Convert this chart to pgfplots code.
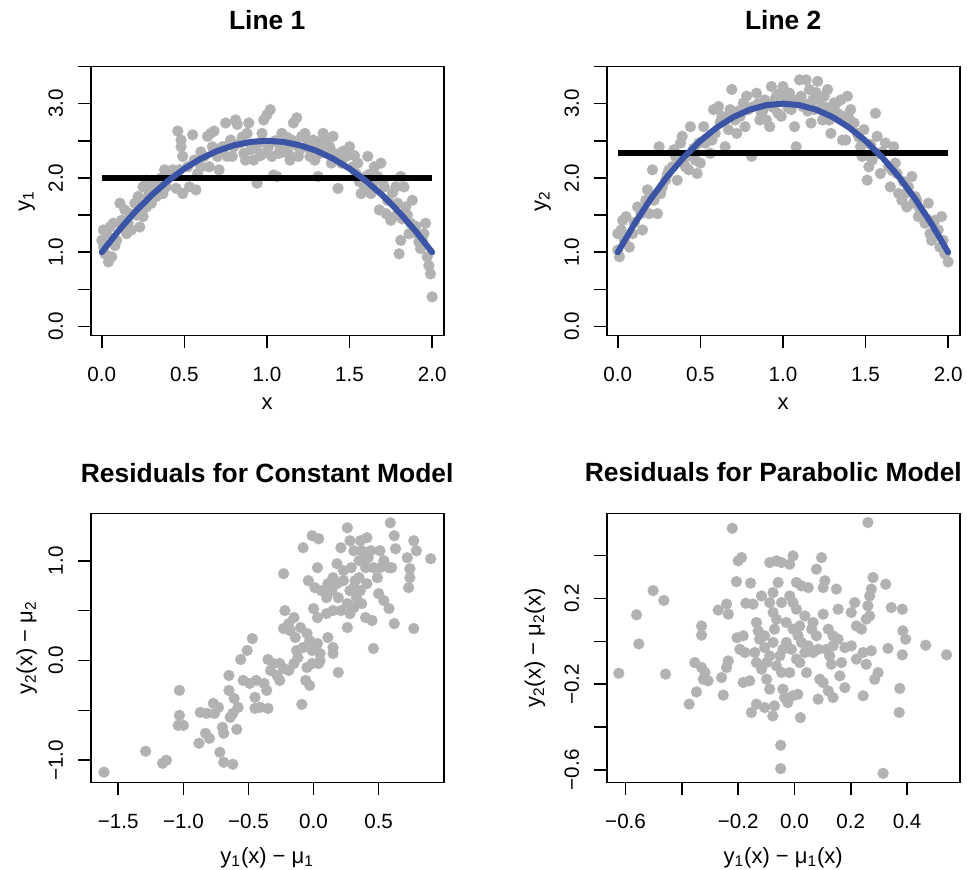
\documentclass[border=0pt]{standalone}
\usepackage{fontspec}
\setmainfont{Liberation Sans}
\usepackage{pgfplots}
\pgfplotsset{compat=1.18}
\definecolor{ptgray}{RGB}{178,178,178}
\definecolor{fitblue}{RGB}{60,84,165}
\pgfplotsset{
  rstyle/.style={
    scale only axis, width=176.5pt, height=134.5pt,
    clip marker paths=true,
    axis line style={line width=0.8pt},
    tick align=outside, major tick length=6.3pt,
    tick style={line width=0.8pt, black},
    xtick pos=left, ytick pos=left,
    ticklabel style={font=\fontsize{10.3}{12}\selectfont},
    xticklabel style={yshift=-6pt},
    yticklabel style={xshift=-4pt, rotate=90, anchor=south},
    label style={font=\fontsize{11}{13}\selectfont},
    every axis title shift=0pt,
    title style={font=\fontsize{13.2}{15}\selectfont\bfseries, at={(axis description cs:0.5,1.172)}, anchor=center},
    xlabel style={at={(axis description cs:0.5,-0.253)}, anchor=center},
    ylabel style={at={(axis description cs:-0.181,0.5)}, anchor=center},
  },
  pts/.style={only marks, mark=*, mark size=2.75pt, color=ptgray, mark options={fill=ptgray, draw=ptgray, line width=0.1pt}},
}
\begin{document}
\begin{tikzpicture}
\path[use as bounding box] (0,0) rectangle (483.5pt,434.5pt);
% ---------------- Line 1
\begin{axis}[rstyle, at={(45.35pt,266.75pt)}, anchor=south west,
  xmin=-0.067, xmax=2.07, ymin=-0.12, ymax=3.5,
  xtick={0,0.5,1,1.5,2}, xticklabels={0.0,0.5,1.0,1.5,2.0},
  ytick={0,0.5,1,1.5,2,2.5,3,3.5}, yticklabels={0.0,,1.0,,2.0,,3.0,},
  title={Line 1}, xlabel={x}, ylabel={y\textsubscript{1}}]
\addplot[pts] coordinates {
(0.01,1.30)(0.03,1.25)(0.05,1.34)(0.07,1.39)(0.0,1.16)(0.02,0.98)(0.04,0.87)(0.06,0.94)(0.08,1.09)(0.01,1.07)(0.09,1.16)
(0.11,1.66)(0.14,1.57)(0.17,1.52)(0.15,1.25)(0.18,1.30)(0.16,1.39)(0.12,1.43)(0.20,1.66)
(0.23,1.61)(0.27,1.61)(0.25,1.48)(0.23,1.34)(0.28,1.75)(0.30,1.66)(0.25,1.88)(0.27,1.97)(0.22,1.75)
(0.33,1.75)(0.31,1.88)(0.34,1.93)(0.37,1.79)(0.39,1.88)(0.35,1.84)(0.38,2.11)
(0.41,2.02)(0.43,2.11)(0.45,1.86)(0.47,2.11)(0.46,2.63)(0.48,2.51)(0.48,2.42)(0.49,2.29)(0.49,1.79)
(0.53,1.88)(0.55,2.58)(0.56,2.24)(0.58,2.06)(0.57,1.84)(0.60,2.15)(0.52,2.15)
(0.62,2.29)(0.64,2.56)(0.66,2.60)(0.68,2.63)(0.67,2.42)(0.70,2.29)(0.65,2.15)(0.71,2.11)
(0.73,2.42)(0.75,2.74)(0.78,2.51)(0.79,2.29)(0.76,2.29)(0.80,2.42)(0.81,2.78)
(0.82,2.72)(0.84,2.47)(0.86,2.33)(0.88,2.60)(0.89,2.74)(0.90,2.38)(0.87,2.24)
(0.92,2.24)(0.94,1.93)(0.95,2.47)(0.97,2.60)(0.98,2.78)(1.00,2.85)(0.98,2.33)
(1.02,2.92)(1.01,2.42)(1.03,2.29)(1.04,2.04)(1.06,2.02)(1.08,2.42)(1.09,2.60)(1.07,2.33)
(1.11,2.42)(1.13,2.33)(1.15,2.51)(1.16,2.74)(1.18,2.81)(1.19,2.29)(1.14,2.24)
(1.21,2.56)(1.23,2.60)(1.24,2.42)(1.26,2.29)(1.28,2.51)(1.29,2.24)
(1.31,2.02)(1.32,2.33)(1.34,2.60)(1.35,2.38)(1.36,2.51)(1.38,2.42)(1.39,2.20)
(1.40,2.56)(1.41,2.33)(1.43,1.86)(1.44,2.24)(1.46,2.36)(1.48,2.29)(1.50,2.42)
(1.52,2.15)(1.54,2.06)(1.56,1.95)(1.57,1.79)(1.59,1.88)(1.60,2.02)(1.55,2.20)
(1.61,2.29)(1.63,1.79)(1.65,2.15)(1.67,2.02)(1.69,2.20)(1.68,1.57)(1.64,1.90)
(1.71,1.88)(1.73,1.70)(1.72,1.52)(1.75,1.43)(1.77,1.48)(1.78,1.88)(1.79,1.66)(1.80,0.98)
(1.81,2.02)(1.83,1.88)(1.84,1.61)(1.85,1.50)(1.81,1.16)(1.87,1.39)(1.89,1.30)(1.86,1.25)(1.88,1.70)
(1.91,1.25)(1.92,1.14)(1.93,1.05)(1.95,1.25)(1.96,1.39)(1.97,0.94)(1.98,0.82)(1.99,0.71)(2.00,0.40)(1.94,1.16)
(0.93,2.40)(0.96,2.30)(1.05,2.50)(1.10,2.35)(1.12,2.55)(1.17,2.45)(1.20,2.38)(1.25,2.50)(1.30,2.45)(1.33,2.50)
(0.72,2.35)(0.77,2.45)(0.85,2.55)(0.60,2.35)(0.44,2.05)(0.36,2.00)(0.29,1.80)(0.21,1.50)(0.13,1.35)
(1.62,2.05)(1.70,1.95)(1.76,1.80)(1.82,1.45)(1.90,1.35)(1.45,2.20)(1.53,2.30)
};
\addplot[black, line width=3pt] coordinates {(0,2.0)(2,2.0)};
\addplot[fitblue, line width=3pt, line cap=round] coordinates {
(0,1.0)(0.1,1.285)(0.2,1.54)(0.3,1.765)(0.4,1.96)(0.5,2.125)(0.6,2.26)(0.7,2.365)(0.8,2.44)(0.9,2.485)(1.0,2.5)
(1.1,2.485)(1.2,2.44)(1.3,2.365)(1.4,2.26)(1.5,2.125)(1.6,1.96)(1.7,1.765)(1.8,1.54)(1.9,1.285)(2.0,1.0)};
\end{axis}
% ---------------- Line 2
\begin{axis}[rstyle, at={(303.35pt,266.75pt)}, anchor=south west,
  xmin=-0.067, xmax=2.07, ymin=-0.12, ymax=3.5,
  xtick={0,0.5,1,1.5,2}, xticklabels={0.0,0.5,1.0,1.5,2.0},
  ytick={0,0.5,1,1.5,2,2.5,3,3.5}, yticklabels={0.0,,1.0,,2.0,,3.0,},
  title={Line 2}, xlabel={x}, ylabel={y\textsubscript{2}}]
\addplot[pts] coordinates {
(0.0,1.03)(0.01,0.94)(0.02,1.30)(0.03,1.43)(0.05,1.48)(0.04,1.16)(0.07,1.07)(0.0,1.25)(0.09,1.25)
(0.12,1.61)(0.15,1.30)(0.14,1.52)(0.17,1.70)(0.18,1.84)(0.19,1.52)(0.21,2.11)
(0.22,1.70)(0.24,1.52)(0.26,1.79)(0.25,2.42)(0.27,1.88)(0.29,1.97)
(0.31,2.11)(0.33,2.15)(0.35,2.29)(0.36,1.97)(0.38,2.47)(0.39,2.56)(0.34,2.38)
(0.41,2.15)(0.43,2.11)(0.44,2.69)(0.45,2.29)(0.47,2.24)(0.48,2.06)(0.50,2.20)(0.49,2.47)
(0.52,2.69)(0.53,2.47)(0.56,2.33)(0.58,2.92)(0.59,2.60)(0.57,2.51)
(0.61,2.96)(0.63,2.83)(0.65,2.42)(0.67,2.65)(0.68,2.92)(0.69,3.19)
(0.71,2.78)(0.72,2.60)(0.74,2.83)(0.76,3.01)(0.77,2.69)(0.78,3.10)(0.81,2.29)(0.79,2.92)
(0.82,2.96)(0.84,3.14)(0.87,2.87)(0.89,3.05)(0.90,2.78)(0.92,2.69)(0.86,2.78)
(0.93,3.23)(0.95,3.05)(0.97,2.87)(0.98,3.14)(0.99,2.83)(1.00,3.23)
(1.02,3.05)(1.04,3.14)(1.07,2.69)(1.08,2.42)(1.09,3.05)(1.05,2.92)(1.10,3.32)
(1.12,2.96)(1.14,3.32)(1.16,3.19)(1.17,2.74)(1.19,2.92)(1.18,3.05)
(1.21,3.30)(1.23,2.92)(1.25,3.10)(1.27,3.19)(1.28,2.78)(1.29,2.60)(1.24,2.78)
(1.31,3.01)(1.33,2.87)(1.35,3.05)(1.37,2.83)(1.38,2.51)(1.39,3.10)(1.36,2.51)
(1.41,2.92)(1.43,2.74)(1.45,2.60)(1.47,2.42)(1.49,2.65)(1.48,2.29)
(1.51,1.97)(1.52,2.15)(1.54,2.24)(1.56,2.87)(1.57,2.56)(1.58,2.33)(1.59,2.06)
(1.62,2.47)(1.64,2.15)(1.65,1.88)(1.67,2.42)(1.69,2.06)(1.70,1.79)(1.68,2.20)
(1.72,1.70)(1.74,1.79)(1.76,1.88)(1.78,2.02)(1.79,1.66)(1.75,1.61)(1.80,1.75)
(1.82,1.48)(1.84,1.52)(1.86,1.39)(1.88,1.66)(1.89,1.25)(1.90,1.16)(1.83,1.57)
(1.92,1.43)(1.94,1.30)(1.96,1.48)(1.97,1.16)(1.98,0.98)(2.00,0.87)(1.95,1.07)
(0.85,3.00)(0.88,2.92)(0.94,2.95)(0.96,3.10)(1.01,3.10)(1.03,2.95)(1.06,3.05)(1.11,3.10)(1.13,3.00)(1.15,2.90)
(1.20,3.15)(1.22,3.05)(1.26,2.95)(1.30,2.90)(1.32,3.00)(0.62,2.75)(0.66,2.80)(0.73,2.90)(0.46,2.40)(0.40,2.20)
(0.30,2.05)(0.20,1.75)(0.10,1.40)(1.40,2.80)(1.46,2.55)(1.53,2.45)(1.60,2.35)(1.66,2.10)(1.73,1.95)(1.81,1.70)(1.87,1.45)
};
\addplot[black, line width=3pt] coordinates {(0,2.33)(2,2.33)};
\addplot[fitblue, line width=3pt, line cap=round] coordinates {
(0,1.0)(0.1,1.38)(0.2,1.72)(0.3,2.02)(0.4,2.28)(0.5,2.5)(0.6,2.68)(0.7,2.82)(0.8,2.92)(0.9,2.98)(1.0,3.0)
(1.1,2.98)(1.2,2.92)(1.3,2.82)(1.4,2.68)(1.5,2.5)(1.6,2.28)(1.7,2.02)(1.8,1.72)(1.9,1.38)(2.0,1.0)};
\end{axis}
% ---------------- Residuals constant
\begin{axis}[rstyle, at={(45.35pt,43.25pt)}, anchor=south west,
  title style={at={(axis description cs:0.5,1.15)}},
  xlabel style={at={(axis description cs:0.5,-0.28)}},
  xmin=-1.712, xmax=1.0, ymin=-1.223, ymax=1.473,
  xtick={-1.5,-1,-0.5,0,0.5}, xticklabels={−1.5,−1.0,−0.5,0.0,0.5},
  ytick={-1,-0.5,0,0.5,1}, yticklabels={−1.0,,0.0,,1.0},
  title={Residuals for Constant Model},
  xlabel={y\textsubscript{1}(x) − μ\textsubscript{1}}, ylabel={y\textsubscript{2}(x) − μ\textsubscript{2}}]
\addplot[pts] coordinates {
(-1.61,-1.12)(-1.29,-0.91)(-1.16,-1.03)(-1.13,-1.0)(-1.03,-0.30)(-1.03,-0.55)(-1.04,-0.65)(-1.0,-0.65)
(-0.88,-0.83)(-0.83,-0.73)(-0.80,-0.78)(-0.87,-0.52)(-0.82,-0.53)(-0.77,-0.43)(-0.73,-0.47)(-0.76,-0.53)
(-0.72,-0.92)(-0.69,-1.02)(-0.62,-1.04)(-0.70,-0.67)(-0.69,-0.73)(-0.64,-0.57)(-0.59,-0.69)(-0.65,-0.15)
(-0.65,-0.30)(-0.61,-0.38)(-0.58,-0.47)(-0.62,-0.53)(-0.56,0.01)(-0.51,0.10)(-0.47,0.22)
(-0.54,-0.20)(-0.49,-0.23)(-0.44,-0.20)(-0.38,-0.23)(-0.36,-0.30)(-0.45,-0.37)(-0.41,-0.47)(-0.35,-0.48)(-0.45,-0.48)
(-0.35,0.01)(-0.33,-0.10)(-0.26,-0.03)(-0.26,-0.20)(-0.23,0.87)(-0.22,0.50)(-0.23,0.32)(-0.19,0.37)(-0.15,0.43)
(-0.19,-0.10)(-0.15,-0.03)(-0.12,0.03)(-0.09,-0.44)(-0.06,-0.20)(-0.03,-0.25)
(-0.08,0.13)(-0.05,0.27)(-0.03,0.20)(-0.01,0.10)(0.03,0.17)(0.05,0.07)(0.04,-0.03)
(-0.08,1.13)(-0.01,1.25)(0.04,1.22)(0.03,0.93)(-0.04,0.80)(0.01,0.73)(0.0,0.52)(0.03,0.43)
(0.11,0.23)(0.15,0.13)(0.15,0.07)(0.19,-0.12)(0.10,0.63)(0.14,0.70)(0.18,0.77)(0.23,0.80)
(0.10,0.47)(0.15,0.50)(0.21,0.50)(0.26,0.33)(0.28,0.47)(0.21,1.13)(0.26,1.33)(0.28,1.20)(0.31,1.10)(0.35,1.0)
(0.18,0.97)(0.23,0.90)(0.29,0.93)(0.32,0.80)(0.36,0.70)(0.37,0.57)(0.40,0.43)(0.45,0.40)(0.46,0.12)
(0.36,1.20)(0.41,1.23)(0.44,1.10)(0.40,0.93)(0.46,0.93)(0.49,0.83)(0.41,0.77)(0.50,0.67)(0.54,0.60)(0.58,0.52)
(0.51,1.10)(0.54,1.0)(0.58,0.93)(0.60,0.93)(0.51,0.93)(0.59,1.38)(0.62,1.25)(0.63,1.12)(0.62,0.37)
(0.72,1.03)(0.74,0.92)(0.74,0.83)(0.73,0.73)(0.77,1.20)(0.79,1.10)(0.77,0.32)(0.90,1.02)
(0.31,0.73)(0.33,0.63)(0.28,0.70)(0.35,0.83)(0.38,1.0)(0.42,1.03)(0.37,1.10)(0.15,0.83)(0.11,0.77)(0.06,0.70)(0.19,0.63)(0.26,0.57)(0.31,0.53)
(-0.18,0.30)(-0.14,0.23)(-0.10,0.33)(-0.13,0.10)(-0.28,-0.15)(-0.31,-0.03)(-0.23,-0.08)(0.05,0.0)(-0.01,-0.03)(-0.05,-0.07)
};
\end{axis}
% ---------------- Residuals parabolic
\begin{axis}[rstyle, at={(303.35pt,43.25pt)}, anchor=south west,
  title style={at={(axis description cs:0.472,1.155)}},
  xlabel style={at={(axis description cs:0.5,-0.28)}},
  ylabel style={at={(axis description cs:-0.203,0.5)}},
  xmin=-0.667, xmax=0.587, ymin=-0.659, ymax=0.597,
  xtick={-0.6,-0.4,-0.2,0,0.2,0.4}, xticklabels={−0.6,,−0.2,0.0,0.2,0.4},
  ytick={-0.6,-0.4,-0.2,0,0.2,0.4}, yticklabels={−0.6,,−0.2,,0.2,},
  title={Residuals for Parabolic Model},
  xlabel={y\textsubscript{1}(x) − μ\textsubscript{1}(x)}, ylabel={y\textsubscript{2}(x) − μ\textsubscript{2}(x)}]
\addplot[pts] coordinates {
(-0.624,-0.149)(-0.561,0.124)(-0.553,-0.012)(-0.502,0.237)(-0.464,0.191)(-0.458,-0.153)(-0.374,-0.293)(-0.348,-0.236)
(-0.354,-0.099)(-0.330,-0.122)(-0.318,-0.146)(-0.307,-0.184)(-0.324,-0.177)(-0.330,0.072)(-0.330,0.029)
(-0.271,0.146)(-0.241,0.174)(-0.235,0.127)(-0.253,-0.251)(-0.259,-0.169)(-0.241,-0.122)(-0.235,-0.091)
(-0.221,0.528)(-0.200,0.376)(-0.188,0.391)(-0.206,0.279)(-0.204,0.017)(-0.182,0.026)(-0.194,-0.037)(-0.176,-0.052)
(-0.182,-0.192)(-0.159,-0.184)(-0.156,0.272)(-0.173,0.178)(-0.147,0.174)(-0.117,0.212)
(-0.153,-0.332)(-0.135,-0.293)(-0.106,-0.309)(-0.077,-0.348)(-0.071,-0.301)
(-0.141,-0.052)(-0.135,-0.099)(-0.117,-0.130)(-0.099,-0.177)(-0.088,-0.223)
(-0.129,0.049)(-0.106,0.026)(-0.124,0.010)(-0.135,0.088)
(-0.088,0.368)(-0.064,0.376)(-0.046,0.368)(-0.017,0.360)(-0.005,0.399)
(-0.076,0.228)(-0.058,0.275)(-0.076,0.135)(-0.064,0.103)(-0.071,0.057)
(-0.049,-0.485)(-0.049,-0.594)(-0.041,-0.223)(-0.035,-0.262)(-0.024,-0.286)(-0.006,-0.254)(0.012,-0.247)(0.021,-0.356)
(-0.052,-0.068)(-0.041,-0.037)(-0.064,-0.114)(-0.046,-0.145)
(-0.017,0.212)(-0.005,0.181)(0.007,0.275)(0.025,0.259)(0.049,0.251)
(-0.029,0.088)(-0.005,0.057)(0.013,0.026)(0.025,-0.005)(0.037,-0.052)(0.019,-0.099)(0.043,-0.146)
(0.078,0.337)(0.096,0.391)(0.102,0.251)(0.108,0.283)(0.149,0.244)(0.155,0.150)
(0.066,0.088)(0.102,0.127)(0.120,0.057)(0.137,0.026)(0.155,0.010)
(0.084,-0.037)(0.125,-0.068)(0.131,-0.107)(0.167,-0.099)(0.090,-0.177)(0.102,-0.192)(0.161,-0.161)
(0.084,-0.270)(0.120,-0.231)(0.137,-0.262)(0.179,-0.216)
(0.179,-0.029)(0.202,-0.021)(0.220,-0.083)(0.244,-0.052)(0.255,-0.107)
(0.202,0.135)(0.214,0.181)(0.220,0.072)(0.238,0.057)(0.255,0.104)(0.244,-0.254)
(0.261,0.166)(0.267,0.212)(0.273,0.244)(0.279,0.298)(0.267,0.119)(0.261,0.555)
(0.273,-0.044)(0.297,-0.146)(0.285,-0.177)(0.315,-0.616)(0.324,0.267)(0.332,-0.033)
(0.344,0.158)(0.383,0.150)(0.383,-0.063)(0.374,-0.220)(0.372,-0.332)(0.385,0.049)(0.395,0.010)
(0.466,-0.018)(0.540,-0.063)
(0.007,0.150)(0.037,0.119)(0.061,0.057)(0.078,0.026)(0.049,-0.021)(0.066,-0.052)(0.019,0.072)(-0.011,-0.037)(0.007,-0.083)(-0.017,-0.146)(-0.029,-0.005)(0.114,-0.037)(0.137,-0.021)
(-0.106,-0.029)(-0.088,-0.068)(-0.076,-0.005)(-0.099,-0.099)(-0.046,0.181)(-0.088,0.181)
};
\end{axis}
\end{tikzpicture}
\end{document}
